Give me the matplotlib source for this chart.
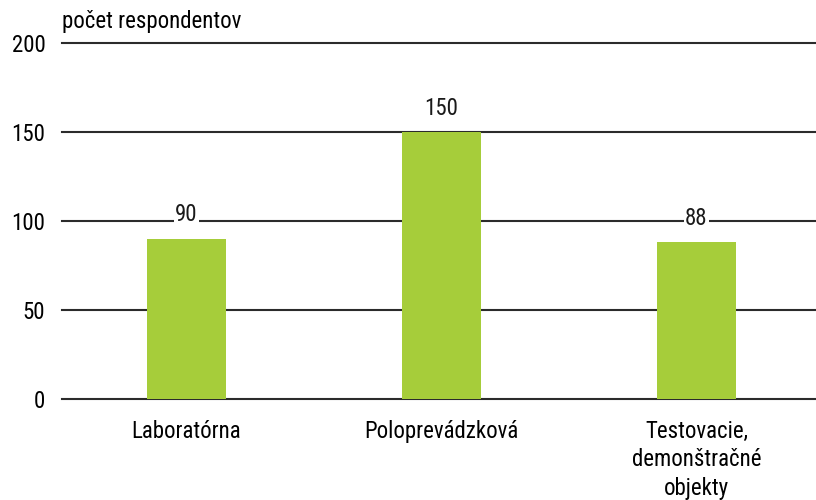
import matplotlib
matplotlib.use("Agg")
import matplotlib.pyplot as plt

plt.rcParams['font.family'] = ['Roboto Condensed', 'DejaVu Sans']

categories = ['Laboratórna', 'Poloprevádzková', 'Testovacie,\ndemonštračné\nobjekty']
values = [90, 150, 88]
yticks = [0, 50, 100, 150, 200]

fig = plt.figure(figsize=(8.16, 5.0), dpi=100)
ax = fig.add_axes([0.076, 0.202, 0.924, 0.712])

for y in yticks:
    ax.axhline(y, color='#2b2b2b', lw=1.5, zorder=1, clip_on=False)

x = range(len(categories))
ax.bar(x, values, width=0.31, color='#a6cd3a', zorder=2)

for xi, v in zip(x, values):
    ax.text(xi, v + 7, str(v), ha='center', va='bottom', fontsize=16.5,
            color='#1a1a1a', zorder=3,
            bbox=dict(facecolor='white', edgecolor='none', pad=1))

ax.set_xlim(-0.488, 2.469)
ax.set_ylim(0, 200)
ax.set_yticks(yticks)
ax.set_xticks(list(x))
ax.set_xticklabels(categories, fontsize=16.5, linespacing=1.3)
ax.tick_params(axis='y', length=0, pad=12, labelsize=16.5)
ax.tick_params(axis='x', length=0, pad=15)
for s in ax.spines.values():
    s.set_visible(False)

fig.text(0.076, 0.934, 'počet respondentov', fontsize=16.5, ha='left', va='bottom')

fig.savefig('out.png', dpi=100)
